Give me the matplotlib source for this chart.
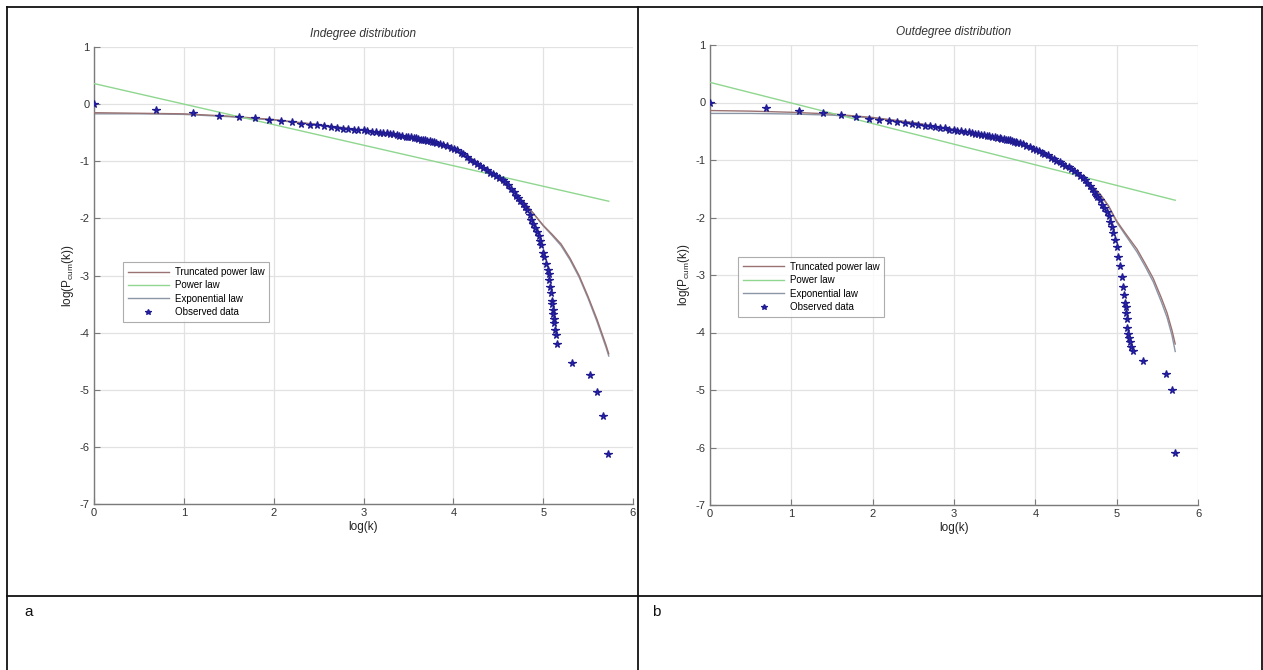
import numpy as np
import matplotlib
matplotlib.use('Agg')
import matplotlib.pyplot as plt
from matplotlib.lines import Line2D

plt.rcParams['font.family'] = ['Liberation Sans', 'DejaVu Sans']
plt.rcParams['mathtext.default'] = 'regular'
plt.rcParams['axes.unicode_minus'] = False

# Panel a: indegree, observed data (log(k), log(Pcum(k)))
in_x = [0.00, 0.69, 1.10, 1.39, 1.61, 1.79, 1.95, 2.08, 2.20, 2.30, 2.40, 2.48,
        2.56, 2.64, 2.71, 2.77, 2.83, 2.89, 2.94, 3.00, 3.04, 3.09, 3.14, 3.18,
        3.22, 3.26, 3.30, 3.33, 3.37, 3.40, 3.43, 3.47, 3.50, 3.53, 3.56, 3.58,
        3.61, 3.64, 3.66, 3.69, 3.71, 3.74, 3.76, 3.78, 3.81, 3.85, 3.89, 3.93,
        3.97, 4.01, 4.04, 4.08, 4.11, 4.15, 4.19, 4.23, 4.26, 4.30, 4.33, 4.37,
        4.41, 4.44, 4.48, 4.51, 4.55, 4.58, 4.61, 4.64, 4.67, 4.70, 4.72, 4.74,
        4.77, 4.80, 4.82, 4.85, 4.87, 4.89, 4.91, 4.93, 4.95, 4.97, 4.98, 5.00,
        5.01, 5.03, 5.05, 5.06, 5.07, 5.08, 5.09, 5.10, 5.10, 5.11, 5.11, 5.12,
        5.12, 5.13, 5.14, 5.15, 5.32, 5.52, 5.60, 5.67, 5.72]
in_y = [0.00, -0.11, -0.16, -0.20, -0.23, -0.25, -0.27, -0.30, -0.32, -0.34, -0.36, -0.37,
        -0.39, -0.40, -0.42, -0.43, -0.44, -0.45, -0.45, -0.46, -0.47, -0.48, -0.49, -0.50,
        -0.51, -0.51, -0.52, -0.53, -0.54, -0.55, -0.56, -0.57, -0.57, -0.58, -0.59, -0.60,
        -0.61, -0.62, -0.63, -0.63, -0.64, -0.65, -0.66, -0.66, -0.68, -0.69, -0.71, -0.73,
        -0.76, -0.79, -0.81, -0.85, -0.88, -0.92, -0.97, -1.01, -1.04, -1.08, -1.12, -1.16,
        -1.20, -1.23, -1.25, -1.29, -1.33, -1.37, -1.42, -1.48, -1.54, -1.60, -1.65, -1.69,
        -1.74, -1.80, -1.86, -1.94, -2.03, -2.10, -2.17, -2.24, -2.31, -2.39, -2.47, -2.60,
        -2.67, -2.79, -2.90, -2.98, -3.08, -3.20, -3.30, -3.44, -3.50, -3.60, -3.67, -3.76,
        -3.84, -3.95, -4.05, -4.20, -4.54, -4.75, -5.04, -5.46, -6.13]

# fitted curves, panel a
in_fit_x = [0.0, 0.5, 1.0, 1.5, 2.0, 2.5, 3.0, 3.5, 3.8, 4.0, 4.2, 4.4, 4.6, 4.8,
            4.9, 5.0, 5.1, 5.2, 5.3, 5.4, 5.5, 5.6, 5.7, 5.73]
in_trunc_y = [-0.15, -0.16, -0.17, -0.21, -0.27, -0.36, -0.46, -0.59, -0.68, -0.78, -0.95,
              -1.17, -1.44, -1.74, -1.93, -2.12, -2.28, -2.45, -2.70, -3.00, -3.37, -3.77,
              -4.22, -4.37]
in_exp_y = [-0.17, -0.17, -0.18, -0.22, -0.28, -0.36, -0.46, -0.59, -0.68, -0.78, -0.95,
            -1.17, -1.44, -1.74, -1.93, -2.13, -2.30, -2.48, -2.73, -3.03, -3.40, -3.81,
            -4.26, -4.41]
in_pow_x = [0.0, 5.73]
in_pow_y = [0.36, -1.70]

# Panel b: outdegree, observed data
out_x = [0.00, 0.69, 1.10, 1.39, 1.61, 1.79, 1.95, 2.08, 2.20, 2.30, 2.40, 2.48,
         2.56, 2.64, 2.71, 2.77, 2.83, 2.89, 2.94, 3.00, 3.04, 3.09, 3.14, 3.18,
         3.22, 3.26, 3.30, 3.33, 3.37, 3.40, 3.43, 3.47, 3.50, 3.53, 3.56, 3.58,
         3.61, 3.64, 3.66, 3.69, 3.71, 3.74, 3.76, 3.78, 3.81, 3.85, 3.89, 3.93,
         3.97, 4.01, 4.04, 4.08, 4.11, 4.15, 4.19, 4.23, 4.26, 4.30, 4.33, 4.37,
         4.41, 4.44, 4.48, 4.51, 4.55, 4.58, 4.61, 4.64, 4.67, 4.70, 4.72, 4.74,
         4.76, 4.79, 4.82, 4.85, 4.88, 4.90, 4.92, 4.94, 4.96, 4.98, 5.00, 5.02,
         5.04, 5.06, 5.08, 5.09, 5.10, 5.11, 5.12, 5.13, 5.13, 5.14, 5.15, 5.16,
         5.18, 5.20, 5.32, 5.61, 5.68, 5.72]
out_y = [0.00, -0.09, -0.15, -0.19, -0.21, -0.25, -0.28, -0.31, -0.32, -0.34, -0.36, -0.37,
         -0.39, -0.40, -0.41, -0.43, -0.44, -0.45, -0.47, -0.48, -0.49, -0.50, -0.51, -0.52,
         -0.53, -0.54, -0.55, -0.56, -0.57, -0.58, -0.59, -0.60, -0.60, -0.61, -0.62, -0.63,
         -0.64, -0.65, -0.65, -0.66, -0.67, -0.68, -0.69, -0.70, -0.71, -0.73, -0.75, -0.77,
         -0.80, -0.82, -0.84, -0.87, -0.89, -0.92, -0.96, -0.99, -1.02, -1.04, -1.07, -1.10,
         -1.13, -1.16, -1.19, -1.22, -1.27, -1.31, -1.35, -1.40, -1.45, -1.51, -1.56, -1.60,
         -1.64, -1.70, -1.78, -1.84, -1.90, -1.98, -2.07, -2.17, -2.27, -2.39, -2.52, -2.68,
         -2.85, -3.03, -3.21, -3.35, -3.48, -3.56, -3.66, -3.76, -3.92, -4.02, -4.10, -4.17,
         -4.26, -4.33, -4.50, -4.72, -5.00, -6.10]

out_fit_x = [0.0, 0.5, 1.0, 1.5, 2.0, 2.5, 3.0, 3.5, 3.8, 4.0, 4.2, 4.4, 4.6, 4.8,
             4.9, 5.0, 5.1, 5.25, 5.35, 5.45, 5.55, 5.62, 5.68, 5.72]
out_trunc_y = [-0.14, -0.15, -0.17, -0.20, -0.26, -0.35, -0.47, -0.61, -0.70, -0.80, -0.95,
               -1.12, -1.32, -1.60, -1.80, -2.06, -2.26, -2.55, -2.80, -3.06, -3.40, -3.66,
               -3.96, -4.20]
out_exp_y = [-0.19, -0.19, -0.20, -0.22, -0.27, -0.35, -0.47, -0.61, -0.70, -0.80, -0.95,
             -1.12, -1.32, -1.60, -1.80, -2.08, -2.29, -2.60, -2.85, -3.12, -3.47, -3.74,
             -4.05, -4.33]
out_pow_x = [0.0, 5.72]
out_pow_y = [0.35, -1.70]

x_ticks = [0, 1, 2, 3, 4, 5, 6]
y_ticks = [1, 0, -1, -2, -3, -4, -5, -6, -7]

trunc_color = '#9a7272'
pow_color = '#8fd68f'
exp_color = '#8a96a6'
data_color = '#2a22d0'
axis_gray = '#7a7a7a'

W, H = 1263, 670
fig = plt.figure(figsize=(W / 100, H / 100), dpi=100)
fig.patch.set_facecolor('white')


def px_rect(x0, y0, x1, y1):
    # pixel box (top-left origin) -> figure fraction rect
    return [x0 / W, 1 - y1 / H, (x1 - x0) / W, (y1 - y0) / H]


def draw_panel(rect, title, dx, dy, fx, trunc, expo, px_, py_, leg_anchor):
    ax = fig.add_axes(rect)
    ax.plot(fx, trunc, color=trunc_color, lw=1.0, label='Truncated power law', zorder=3)
    ax.plot(px_, py_, color=pow_color, lw=1.0, label='Power law', zorder=3)
    ax.plot(fx, expo, color=exp_color, lw=1.0, label='Exponential law', zorder=2)
    ax.plot(dx, dy, ls='none', marker='*', ms=5.5, color=data_color,
            markeredgecolor='#201c90', markeredgewidth=0.9, label='Observed data', zorder=4)
    ax.set_xlim(0, 6)
    ax.set_ylim(-7, 1)
    ax.set_xticks(x_ticks)
    ax.set_yticks(y_ticks)
    ax.grid(True, color='#e2e2e2', lw=0.9)
    ax.set_axisbelow(True)
    for s in ['top', 'right']:
        ax.spines[s].set_visible(False)
    for s in ['left', 'bottom']:
        ax.spines[s].set_color(axis_gray)
        ax.spines[s].set_linewidth(1.0)
    ax.tick_params(direction='in', length=4, color=axis_gray, labelsize=8,
                   labelcolor='#333333', pad=3)
    ax.set_xlabel('log(k)', fontsize=8.5, color='#222222', labelpad=2)
    ax.set_ylabel('log(P$_{cum}$(k))', fontsize=8.5, color='#222222', labelpad=3)
    ax.set_title(title, fontsize=8.5, style='italic', color='#333333', pad=7)
    leg = ax.legend(loc='upper left', bbox_to_anchor=leg_anchor, fontsize=7,
                    frameon=True, fancybox=False, edgecolor='#999999',
                    handlelength=4.2, borderpad=0.5, labelspacing=0.35,
                    handletextpad=0.6, markerscale=0.7)
    leg.get_frame().set_linewidth(0.8)
    return ax


draw_panel(px_rect(94, 47, 633, 504), 'Indegree distribution',
           in_x, in_y, in_fit_x, in_trunc_y, in_exp_y, in_pow_x, in_pow_y,
           (0.045, 0.54))
draw_panel(px_rect(710, 45, 1198, 505), 'Outdegree distribution',
           out_x, out_y, out_fit_x, out_trunc_y, out_exp_y, out_pow_x, out_pow_y,
           (0.048, 0.55))

# table frame around the two panels
def hline(y, x0, x1):
    fig.add_artist(Line2D([x0 / W, x1 / W], [1 - y / H, 1 - y / H],
                          color='#111111', lw=1.3))


def vline(x, y0, y1):
    fig.add_artist(Line2D([x / W, x / W], [1 - y0 / H, 1 - y1 / H],
                          color='#111111', lw=1.3))


hline(7, 7, 1263)
hline(596, 7, 1263)
vline(7, 7, 670)
vline(638, 7, 670)
vline(1262, 7, 670)

fig.text(24 / W, 1 - 612 / H, 'a', fontsize=11, va='center', ha='left', color='#111111')
fig.text(652 / W, 1 - 612 / H, 'b', fontsize=11, va='center', ha='left', color='#111111')

fig.savefig('out.png', dpi=100)
